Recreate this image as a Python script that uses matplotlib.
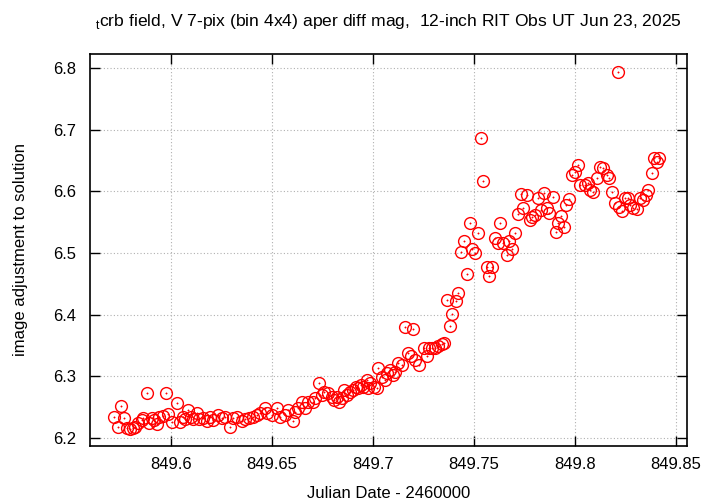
import matplotlib
matplotlib.use("Agg")
import matplotlib.pyplot as plt

plt.rcParams["font.family"] = ["Liberation Sans", "DejaVu Sans"]
plt.rcParams["mathtext.fontset"] = "custom"
plt.rcParams["mathtext.rm"] = "Liberation Sans"

# Julian Date - 2460000
jd = [
    849.5718, 849.5738, 849.5752, 849.5767, 849.5782, 849.5797, 849.5812, 849.5822,
    849.5837, 849.5856, 849.5861, 849.5881, 849.5891, 849.5906, 849.5916, 849.5931,
    849.5941, 849.5960, 849.5975, 849.5985, 849.6005, 849.6030, 849.6045, 849.6059,
    849.6069, 849.6084, 849.6099, 849.6109, 849.6129, 849.6139, 849.6158, 849.6178,
    849.6193, 849.6208, 849.6233, 849.6252, 849.6267, 849.6292, 849.6307, 849.6327,
    849.6351, 849.6366, 849.6386, 849.6406, 849.6426, 849.6441, 849.6465, 849.6475,
    849.6500, 849.6525, 849.6540, 849.6564, 849.6579, 849.6604, 849.6614, 849.6629,
    849.6648, 849.6663, 849.6678, 849.6703, 849.6713, 849.6733, 849.6747, 849.6757,
    849.6777, 849.6797, 849.6807, 849.6822, 849.6832, 849.6846, 849.6856, 849.6871,
    849.6886, 849.6901, 849.6916, 849.6926, 849.6941, 849.6950, 849.6970, 849.6975,
    849.6985, 849.7005, 849.7020, 849.7025, 849.7044, 849.7059, 849.7069, 849.7084,
    849.7099, 849.7109, 849.7124, 849.7143, 849.7158, 849.7173, 849.7188, 849.7198,
    849.7208, 849.7228, 849.7252, 849.7267, 849.7277, 849.7292, 849.7307, 849.7322,
    849.7341, 849.7351, 849.7366, 849.7381, 849.7391, 849.7411, 849.7421, 849.7436,
    849.7450, 849.7465, 849.7480, 849.7490, 849.7505, 849.7520, 849.7535, 849.7544,
    849.7564, 849.7574, 849.7589, 849.7604, 849.7619, 849.7629, 849.7643, 849.7663,
    849.7673, 849.7688, 849.7703, 849.7718, 849.7733, 849.7742, 849.7762, 849.7777,
    849.7787, 849.7802, 849.7817, 849.7832, 849.7846, 849.7861, 849.7871, 849.7891,
    849.7906, 849.7916, 849.7931, 849.7945, 849.7955, 849.7970, 849.7985, 849.8000,
    849.8015, 849.8025, 849.8050, 849.8064, 849.8074, 849.8089, 849.8109, 849.8124,
    849.8138, 849.8158, 849.8168, 849.8183, 849.8198, 849.8213, 849.8218, 849.8232,
    849.8247, 849.8262, 849.8272, 849.8287, 849.8307, 849.8322, 849.8336, 849.8351,
    849.8361, 849.8381, 849.8391, 849.8406, 849.8416,
]

# image adjustment to solution (mag)
adj = [
    6.234, 6.218, 6.252, 6.232, 6.216, 6.215, 6.216, 6.218,
    6.224, 6.229, 6.232, 6.273, 6.224, 6.232, 6.229, 6.223,
    6.234, 6.236, 6.273, 6.239, 6.226, 6.257, 6.226, 6.234,
    6.231, 6.245, 6.234, 6.231, 6.241, 6.231, 6.232, 6.228,
    6.234, 6.229, 6.237, 6.232, 6.234, 6.218, 6.232, 6.234,
    6.228, 6.231, 6.232, 6.234, 6.237, 6.241, 6.249, 6.241,
    6.237, 6.249, 6.234, 6.237, 6.245, 6.228, 6.242, 6.249,
    6.258, 6.249, 6.258, 6.258, 6.265, 6.289, 6.270, 6.275,
    6.273, 6.267, 6.262, 6.267, 6.258, 6.265, 6.278, 6.270,
    6.275, 6.278, 6.283, 6.281, 6.286, 6.283, 6.294, 6.281,
    6.289, 6.283, 6.281, 6.314, 6.299, 6.294, 6.305, 6.310,
    6.302, 6.307, 6.322, 6.318, 6.380, 6.338, 6.333, 6.377,
    6.327, 6.318, 6.346, 6.333, 6.346, 6.346, 6.346, 6.349,
    6.352, 6.354, 6.424, 6.382, 6.401, 6.422, 6.435, 6.502,
    6.520, 6.466, 6.549, 6.507, 6.500, 6.533, 6.687, 6.617,
    6.477, 6.463, 6.477, 6.524, 6.516, 6.549, 6.516, 6.497,
    6.520, 6.507, 6.533, 6.563, 6.596, 6.573, 6.594, 6.554,
    6.559, 6.562, 6.589, 6.570, 6.597, 6.573, 6.565, 6.591,
    6.534, 6.549, 6.560, 6.542, 6.578, 6.588, 6.627, 6.631,
    6.643, 6.610, 6.610, 6.614, 6.602, 6.599, 6.622, 6.640,
    6.638, 6.627, 6.622, 6.599, 6.581, 6.794, 6.575, 6.568,
    6.589, 6.589, 6.578, 6.573, 6.571, 6.589, 6.586, 6.594,
    6.602, 6.630, 6.654, 6.648, 6.654,
]

xticks = [849.6, 849.65, 849.7, 849.75, 849.8, 849.85]
yticks = [6.2, 6.3, 6.4, 6.5, 6.6, 6.7, 6.8]

fig = plt.figure(figsize=(7.2, 5.04), dpi=100)
ax = fig.add_axes([0.125, 0.115, 0.829, 0.778])

# open circles with a small dot in the middle (gnuplot pt 6 look)
ax.plot(jd, adj, linestyle="none", marker="o", markersize=8.5,
        markerfacecolor="none", markeredgecolor="red", markeredgewidth=1.0)
ax.plot(jd, adj, linestyle="none", marker="o", markersize=1.0,
        markerfacecolor="red", markeredgecolor="red", markeredgewidth=0.3)

ax.set_xlim(849.5599, 849.8554)
ax.set_ylim(6.187, 6.823)
ax.set_xticks(xticks)
ax.set_xticklabels([f"{t:g}" for t in xticks])
ax.set_yticks(yticks)
ax.set_yticklabels([f"{t:.1f}" for t in yticks])

ax.grid(True, color="#b0b0b0", linestyle=(0, (1, 2)), linewidth=0.8)
ax.tick_params(direction="in", length=7, width=1, top=True, right=True,
               labelsize=12)
ax.tick_params(axis="x", pad=8)
ax.tick_params(axis="y", pad=10)
for s in ax.spines.values():
    s.set_linewidth(1.2)

ax.set_xlabel("Julian Date - 2460000", fontsize=12, labelpad=10)
ax.set_ylabel("image adjustment to solution", fontsize=12, labelpad=18)
ax.set_title(r"$_{\mathrm{t}}$crb field, V 7-pix (bin 4x4) aper diff mag,  12-inch RIT Obs UT Jun 23, 2025",
             fontsize=12.6, pad=20)

fig.savefig("out.png", dpi=100)
